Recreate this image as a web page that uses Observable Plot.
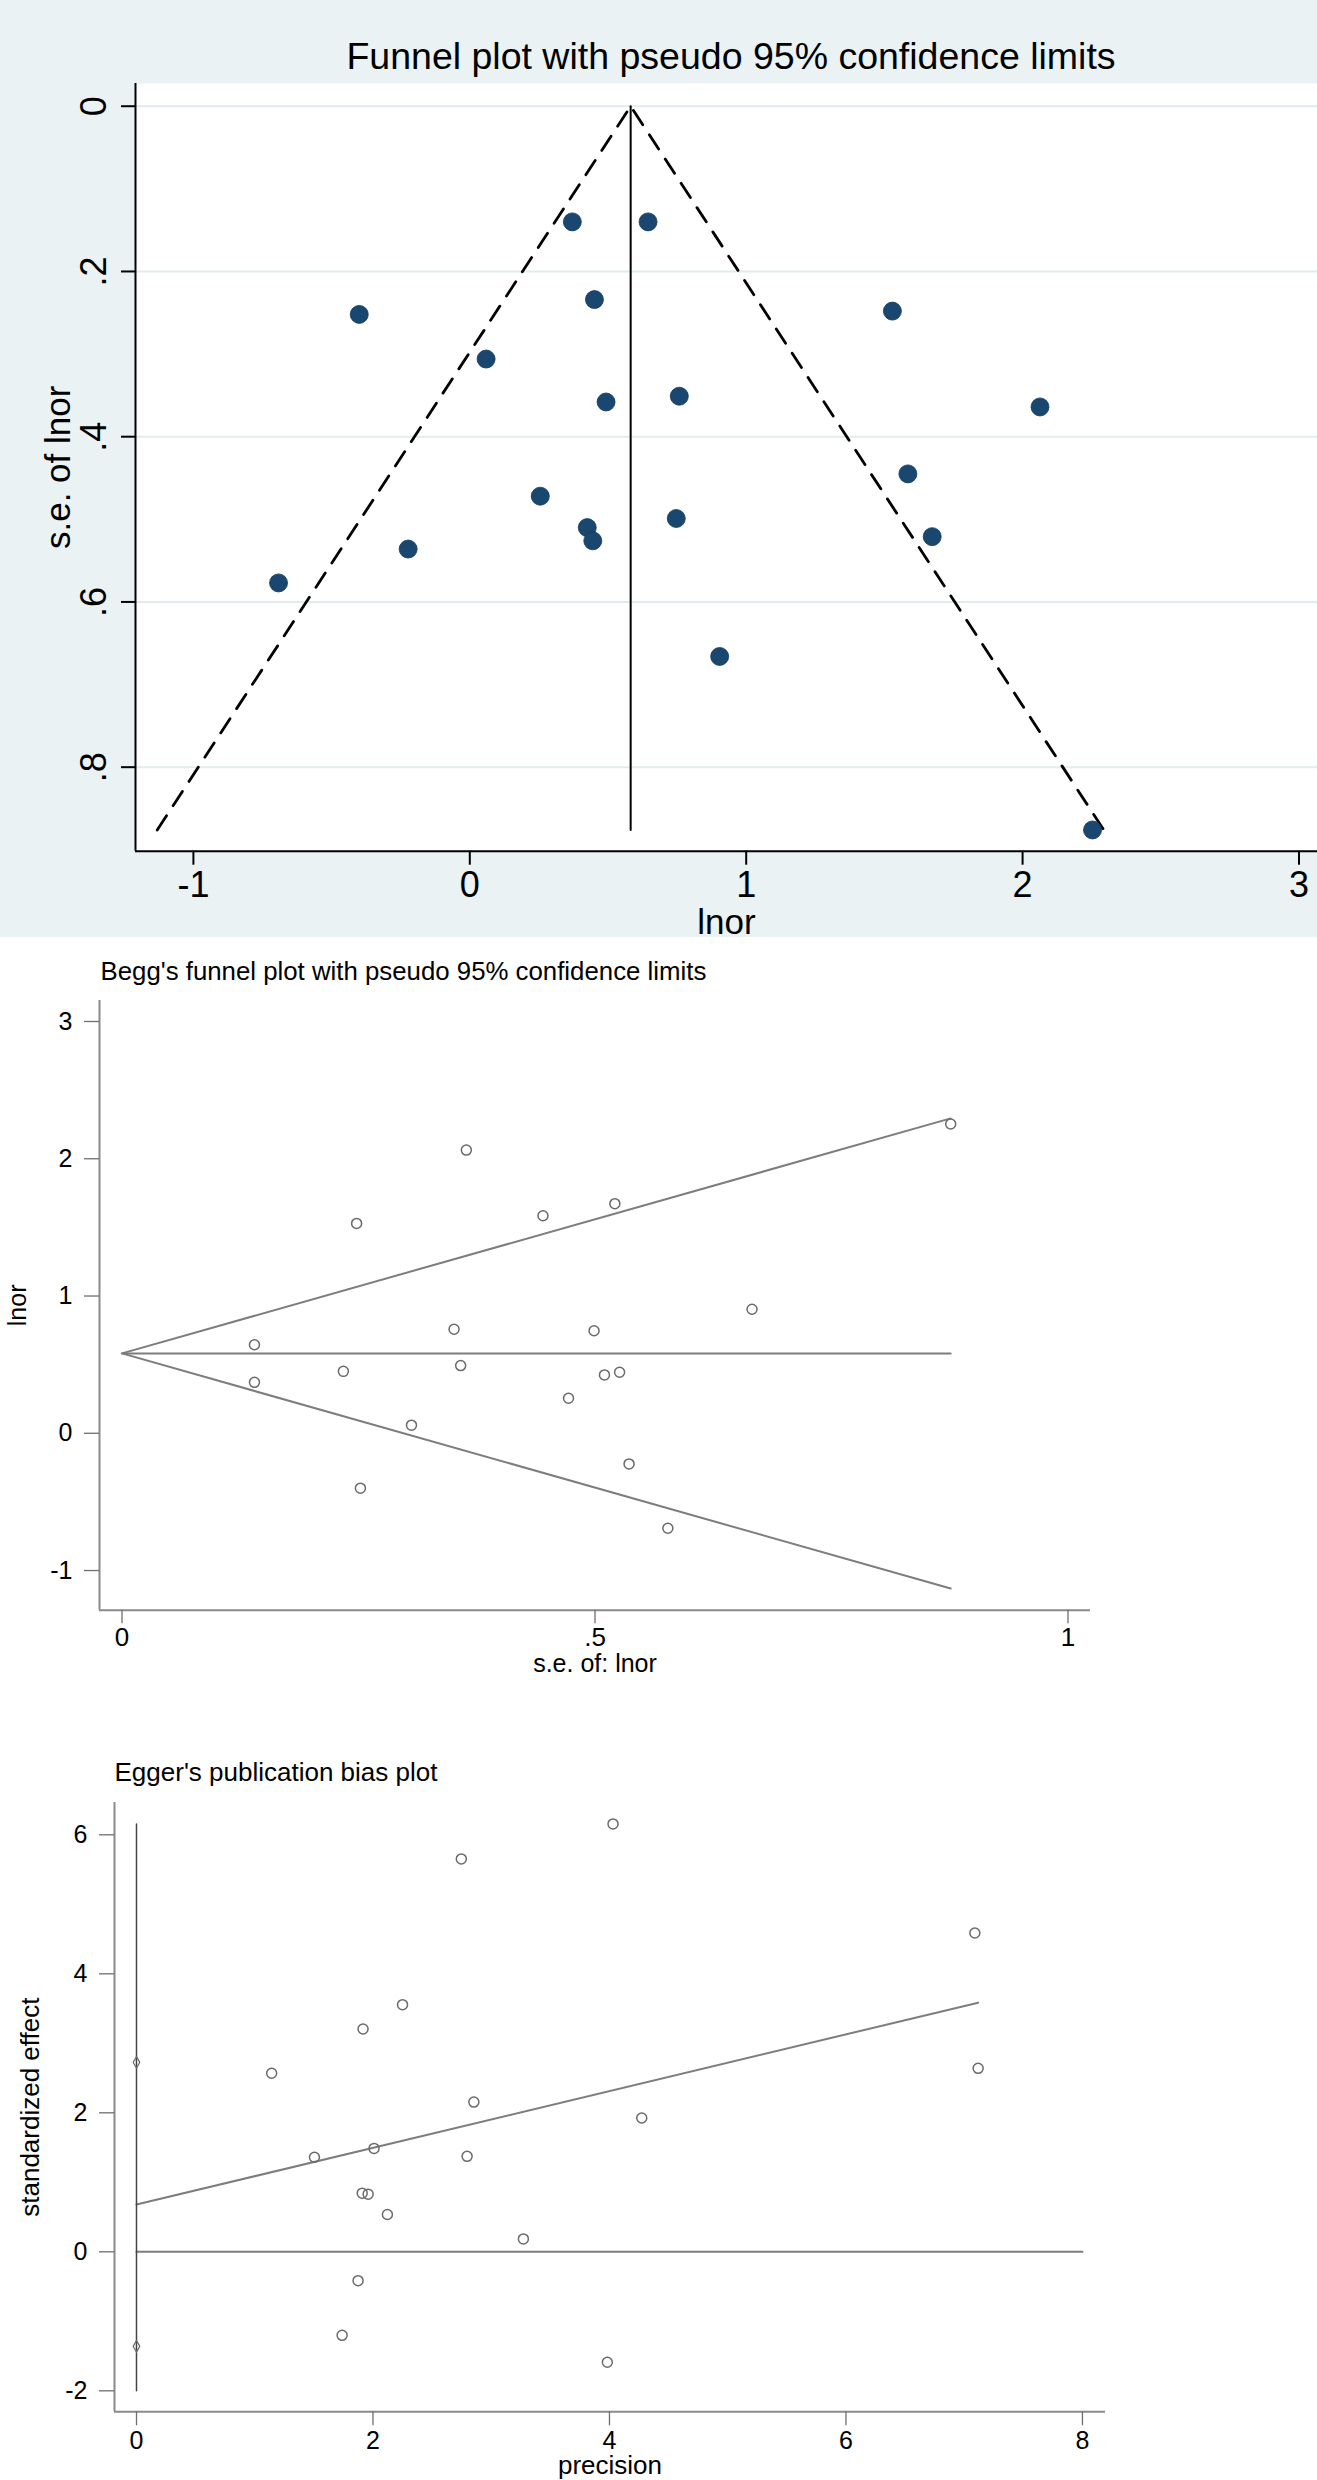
<!DOCTYPE html>
<html><head><meta charset="utf-8">
<script src="https://cdn.jsdelivr.net/npm/d3@7"></script>
<script src="https://cdn.jsdelivr.net/npm/@observablehq/plot@0.6"></script>
<style>
html,body{margin:0;padding:0;background:#fff;}
#wrap{position:relative;width:1317px;height:2480px;overflow:hidden;}
#wrap svg{position:absolute;left:0;}
</style></head><body><div id="wrap"></div>
<script>
// ---- study data ----
const se   = [0.140, 0.140, 0.234, 0.248, 0.252, 0.306, 0.351, 0.358, 0.364, 0.445, 0.472, 0.499, 0.510, 0.521, 0.526, 0.536, 0.577, 0.666, 0.876];
const lnor = [0.645, 0.371, 0.451, 1.529, -0.400, 0.059, 0.758, 0.493, 2.063, 1.585, 0.255, 0.747, 0.425, 1.673, 0.445, -0.223, -0.692, 0.904, 2.253];

// ---- Egger plot points ----
const precision = [4.03, 2.747, 7.09, 2.25, 1.916, 1.143, 7.118, 2.853, 4.273, 1.505, 2.009, 2.796, 1.909, 1.959, 2.122, 3.272, 1.874, 1.739, 3.982];
const stdEffect = [6.157, 5.653, 4.587, 3.556, 3.206, 2.569, 2.64, 2.154, 1.925, 1.36, 1.488, 1.374, 0.844, 0.830, 0.537, 0.186, -0.415, -1.202, -1.589];

// ---- reference lines ----
const pooled = 0.582;           // pooled lnor
const seMaxLine = 0.876;        // extent of funnel
const limitLow = -1.131, limitHigh = 2.294;     // pseudo 95% limits at seMaxLine
const eggerFitIntercept = 0.68, eggerFitEnd = 3.585, eggerFitEndX = 7.118;
const eggerCI = [2.726, -1.36];
const eggerSpan = [-2.0, 6.157];
const eggerZeroEnd = 8;

// ---- axes ----
const topXTicks = [-1, 0, 1, 2, 3], topXLabels = ["-1", "0", "1", "2", "3"];
const topYTicks = [0, 0.2, 0.4, 0.6, 0.8], topYLabels = ["0", ".2", ".4", ".6", ".8"];
const topXDomain = [-1.2095, 3.067], topYDomain = [-0.0275, 0.9017];
const beggXTicks = [0, 0.5, 1], beggXLabels = ["0", ".5", "1"];
const beggYTicks = [-1, 0, 1, 2, 3], beggYLabels = ["-1", "0", "1", "2", "3"];
const beggXDomain = [-0.0238, 1.0238], beggYDomain = [-1.289, 3.153];
const eggXTicks = [0, 2, 4, 6, 8], eggXLabels = ["0", "2", "4", "6", "8"];
const eggYTicks = [-2, 0, 2, 4, 6], eggYLabels = ["-2", "0", "2", "4", "6"];
const eggXDomain = [-0.186, 8.195], eggYDomain = [-2.302, 6.465];

// ---- texts ----
const topTitle = "Funnel plot with pseudo 95% confidence limits";
const topXTitle = "lnor", topYTitle = "s.e. of lnor";
const beggTitle = "Begg's funnel plot with pseudo 95% confidence limits";
const beggXTitle = "s.e. of: lnor", beggYTitle = "lnor";
const eggTitle = "Egger's publication bias plot";
const eggXTitle = "precision", eggYTitle = "standardized effect";

const FONT = '"Liberation Sans", Arial, Helvetica, sans-serif';
const fmt = (ticks, labels) => { const m = new Map(ticks.map((t, i) => [t, labels[i]])); return d => m.get(d); };

const studies = se.map((s, i) => ({se: s, lnor: lnor[i]}));
const egger = precision.map((p, i) => ({p, e: stdEffect[i]}));

const wrap = document.getElementById("wrap");

// ================= Panel 1 =================
const limitPath = [{x: limitLow, y: seMaxLine}, {x: pooled, y: 0}, {x: limitHigh, y: seMaxLine}];
const pooledPath = [{x: pooled, y: 0}, {x: pooled, y: seMaxLine}];
const p1 = Plot.plot({
  width: 1317, height: 937,
  marginLeft: 135, marginRight: 0, marginTop: 83, marginBottom: 86.3,
  style: {background: "#eaf2f3", fontFamily: FONT, overflow: "visible", color: "black"},
  x: {domain: topXDomain, axis: null},
  y: {domain: topYDomain, reverse: true, axis: null},
  marks: [
    Plot.frame({fill: "white", stroke: "none"}),
    Plot.gridY(topYTicks, {stroke: "#e2ebee", strokeOpacity: 1, strokeWidth: 2}),
    Plot.ruleX([topXDomain[0]], {stroke: "black", strokeWidth: 2}),
    Plot.ruleY([topYDomain[1]], {stroke: "black", strokeWidth: 2}),
    Plot.axisX(topXTicks, {tickFormat: fmt(topXTicks, topXLabels), tickSize: 14, tickPadding: 6, fontSize: 36, stroke: "black", strokeWidth: 2, fill: "black"}),
    Plot.axisY(topYTicks, {tickFormat: fmt(topYTicks, topYLabels), tickSize: 14, tickPadding: 16, tickRotate: -90, textAnchor: "middle", lineAnchor: "bottom", fontSize: 36, stroke: "black", strokeWidth: 2, fill: "black"}),
    Plot.line(limitPath, {x: "x", y: "y", stroke: "black", strokeWidth: 2.8, strokeDasharray: "17,12"}),
    Plot.line(pooledPath, {x: "x", y: "y", stroke: "black", strokeWidth: 2}),
    Plot.dot(studies, {x: "lnor", y: "se", r: 9, fill: "#1a476f", stroke: "#13385a", strokeWidth: 0.8}),
    Plot.text([topTitle], {frameAnchor: "top", dx: 4.5, dy: -15, lineAnchor: "bottom", fontSize: 37.5, fill: "black"}),
    Plot.text([topXTitle], {frameAnchor: "bottom", dy: 71.8, lineAnchor: "middle", fontSize: 35, fill: "black"}),
    Plot.text([topYTitle], {frameAnchor: "left", dx: -66, rotate: -90, textAnchor: "middle", lineAnchor: "bottom", fontSize: 35, fill: "black"})
  ]
});
p1.style.top = "0px";
wrap.appendChild(p1);

// ================= Panel 2 (Begg) =================
const GRAY_LINE = "#7d7d7d", GRAY_AXIS = "#8a8a8a", GRAY_PT = "#6a6a6a";
const beggBounds = [{x: seMaxLine, y: limitHigh}, {x: 0, y: pooled}, {x: seMaxLine, y: limitLow}];
const beggMid = [{x: 0, y: pooled}, {x: seMaxLine, y: pooled}];
const p2 = Plot.plot({
  width: 1317, height: 763,
  marginLeft: 99, marginRight: 227, marginTop: 63, marginBottom: 90.3,
  style: {background: "white", fontFamily: FONT, overflow: "visible", color: "black"},
  x: {domain: beggXDomain, axis: null},
  y: {domain: beggYDomain, axis: null},
  marks: [
    Plot.ruleX([beggXDomain[0]], {stroke: GRAY_AXIS, strokeWidth: 2}),
    Plot.ruleY([beggYDomain[0]], {stroke: GRAY_AXIS, strokeWidth: 2}),
    Plot.axisX(beggXTicks, {tickFormat: fmt(beggXTicks, beggXLabels), tickSize: 13.5, tickPadding: 3.5, fontSize: 26, stroke: "#6e6e6e", strokeWidth: 1.3, fill: "black"}),
    Plot.axisY(beggYTicks, {tickFormat: fmt(beggYTicks, beggYLabels), tickSize: 15, tickPadding: 12, fontSize: 25, stroke: "#6e6e6e", strokeWidth: 1.3, fill: "black"}),
    Plot.line(beggBounds, {x: "x", y: "y", stroke: GRAY_LINE, strokeWidth: 2}),
    Plot.line(beggMid, {x: "x", y: "y", stroke: GRAY_LINE, strokeWidth: 2}),
    Plot.dot(studies, {x: "se", y: "lnor", r: 5, stroke: GRAY_PT, strokeWidth: 1.5, fill: "none"}),
    Plot.text([beggTitle], {frameAnchor: "top-left", textAnchor: "start", dx: 1, dy: -21, lineAnchor: "bottom", fontSize: 25.8, fill: "black"}),
    Plot.text([beggXTitle], {frameAnchor: "bottom", dy: 54, lineAnchor: "middle", fontSize: 25, fill: "black"}),
    Plot.text([beggYTitle], {frameAnchor: "left", dx: -74, rotate: -90, textAnchor: "middle", lineAnchor: "bottom", fontSize: 25, fill: "black"})
  ]
});
p2.style.top = "937px";
wrap.appendChild(p2);

// ================= Panel 3 (Egger) =================
const eggFit = [{x: 0, y: eggerFitIntercept}, {x: eggerFitEndX, y: eggerFitEnd}];
const eggZero = [{x: 0, y: 0}, {x: eggerZeroEnd, y: 0}];
const eggVert = eggerSpan.map(v => ({x: 0, y: v}));
const eggCIpts = eggerCI.map(v => ({x: 0, y: v}));
const p3 = Plot.plot({
  width: 1317, height: 780,
  marginLeft: 114, marginRight: 212, marginTop: 102, marginBottom: 68.7,
  style: {background: "white", fontFamily: FONT, overflow: "visible", color: "black"},
  x: {domain: eggXDomain, axis: null},
  y: {domain: eggYDomain, axis: null},
  marks: [
    Plot.ruleX([eggXDomain[0]], {stroke: GRAY_AXIS, strokeWidth: 2}),
    Plot.ruleY([eggYDomain[0]], {stroke: GRAY_AXIS, strokeWidth: 2}),
    Plot.axisX(eggXTicks, {tickFormat: fmt(eggXTicks, eggXLabels), tickSize: 14, tickPadding: 5, fontSize: 25, stroke: "#6e6e6e", strokeWidth: 1.3, fill: "black"}),
    Plot.axisY(eggYTicks, {tickFormat: fmt(eggYTicks, eggYLabels), tickSize: 15, tickPadding: 12, fontSize: 25, stroke: "#6e6e6e", strokeWidth: 1.3, fill: "black"}),
    Plot.line(eggZero, {x: "x", y: "y", stroke: GRAY_LINE, strokeWidth: 2}),
    Plot.line(eggFit, {x: "x", y: "y", stroke: GRAY_LINE, strokeWidth: 2}),
    Plot.line(eggVert, {x: "x", y: "y", stroke: "#444", strokeWidth: 1.5}),
    Plot.dot(eggCIpts, {x: "x", y: "y", symbol: "diamond", r: 3.5, stroke: GRAY_PT, strokeWidth: 1.2, fill: "none"}),
    Plot.dot(egger, {x: "p", y: "e", r: 5, stroke: GRAY_PT, strokeWidth: 1.5, fill: "none"}),
    Plot.text([eggTitle], {frameAnchor: "top-left", textAnchor: "start", dx: 0, dy: -22, lineAnchor: "bottom", fontSize: 26, fill: "black"}),
    Plot.text([eggXTitle], {frameAnchor: "bottom", dy: 53.5, lineAnchor: "middle", fontSize: 26, fill: "black"}),
    Plot.text([eggYTitle], {frameAnchor: "left", dx: -76, rotate: -90, textAnchor: "middle", lineAnchor: "bottom", fontSize: 26, fill: "black"})
  ]
});
p3.style.top = "1700px";
wrap.appendChild(p3);
</script></body></html>
